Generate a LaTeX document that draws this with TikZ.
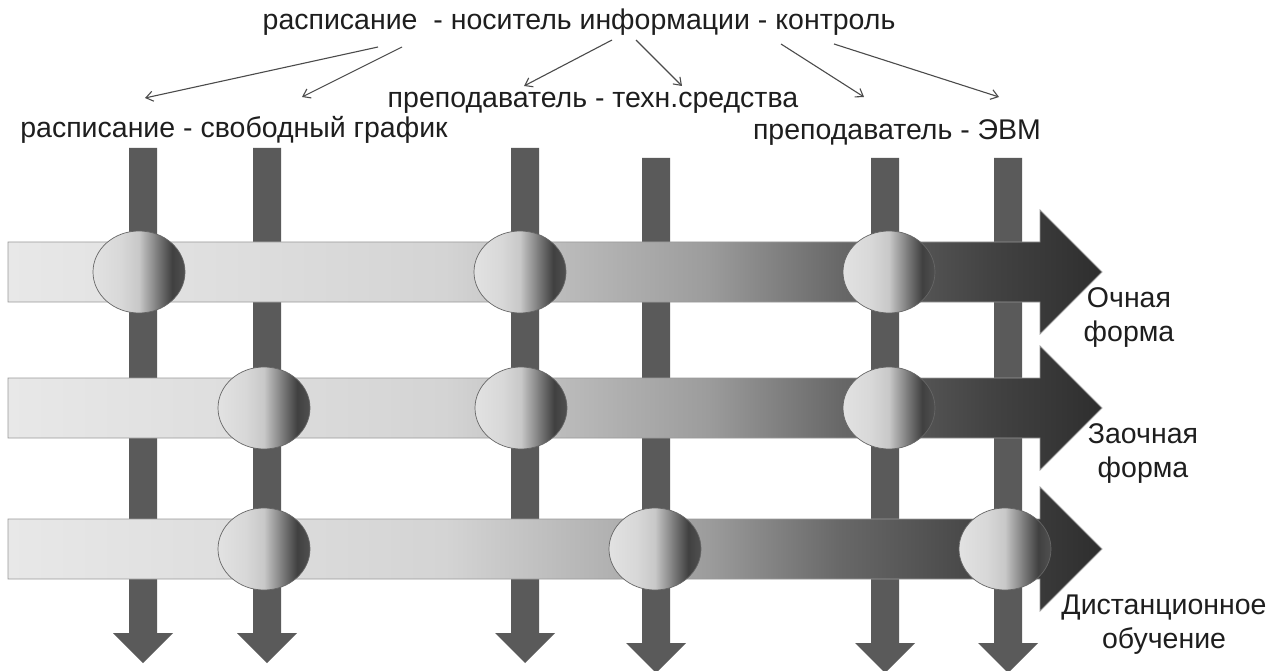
\documentclass[tikz,border=0pt]{standalone}
\usepackage{fontspec}
\setmainfont{Liberation Sans}
\usetikzlibrary{arrows.meta}
\definecolor{b1}{HTML}{E8E8E8}
\definecolor{b2}{HTML}{D4D4D4}
\definecolor{b3}{HTML}{9C9C9C}
\definecolor{b4}{HTML}{686868}
\definecolor{b5}{HTML}{424242}
\definecolor{b6}{HTML}{2E2E2E}
\definecolor{c1}{HTML}{E2E2E2}
\definecolor{c2}{HTML}{D8D8D8}
\definecolor{c3}{HTML}{C8C8C8}
\definecolor{c4}{HTML}{B0B0B0}
\definecolor{c5}{HTML}{404040}
\definecolor{c6}{HTML}{505050}
\definecolor{barcol}{HTML}{5A5A5A}
\definecolor{txt}{HTML}{1E1E1E}
\pgfdeclarehorizontalshading{bandshade}{100bp}{color(0bp)=(b1); color(25bp)=(b1); color(45bp)=(b2); color(57bp)=(b3); color(63bp)=(b4); color(70bp)=(b5); color(75bp)=(b6); color(100bp)=(b6)}
\pgfdeclarehorizontalshading{ballshade}{100bp}{color(0bp)=(c1); color(25bp)=(c1); color(40bp)=(c2); color(50bp)=(c3); color(53bp)=(c4); color(68bp)=(c5); color(75bp)=(c6); color(100bp)=(c6)}
\begin{document}
\begin{tikzpicture}[x=1pt,y=-1pt,
  lbl/.style={font=\fontsize{28.5}{34}\selectfont, text=txt, inner sep=0pt},
  ptr/.style={draw=txt!80, line width=1.1pt, -{Straight Barb[length=7pt,width=10pt]}},
  vbar/.style={fill=barcol},
  band/.style={shading=bandshade, draw=gray!80, line width=0.8pt},
  ball/.style={shading=ballshade, draw=black!60, line width=0.7pt}]
\useasboundingbox (0,0) rectangle (1280,671);
% vertical arrows
\foreach \x/\t/\b in {143/148/633, 267/148/633, 525/148/633, 656/158/643, 885/158/643, 1008/158/643}
  \fill[vbar] ({\x-14},\t) -- ({\x+14},\t) -- ({\x+14},\b) -- ({\x+30},\b)
     -- (\x,{\b+30}) -- ({\x-30},\b) -- ({\x-14},\b) -- cycle;
% horizontal arrows
\foreach \y in {272,408,549}
  \shade[band] (8,{\y-30}) -- (1040,{\y-30}) -- (1040,{\y-62}) -- (1102,\y)
     -- (1040,{\y+62}) -- (1040,{\y+30}) -- (8,{\y+30}) -- cycle;
% balls
\foreach \x/\y in {139/272, 520/272, 889/272, 264/408, 521/408, 889/408, 264/549, 655/549, 1005/549}
  \shade[ball] (\x,\y) ellipse [x radius=46pt, y radius=41pt];
% texts
\node[lbl] (title) at (579,22) {расписание \ - носитель информации - контроль};
\node[lbl] (tech) at (593,103) {преподаватель - техн.средства};
\node[lbl] (free) at (234,130) {расписание - свободный график};
\node[lbl] (evm) at (897,133) {преподаватель - ЭВМ};
\node[lbl, align=center] (och) at (1129,318) {Очная\\форма};
\node[lbl, align=center] (zao) at (1143,454) {Заочная\\форма};
\node[lbl, align=center] (dist) at (1164,625) {Дистанционное\\обучение};
% pointers
\coordinate (s1) at (378,47); \coordinate (e1) at (145,98);
\coordinate (s2) at (402,47); \coordinate (e2) at (302,97);
\coordinate (s3) at (612,40); \coordinate (e3) at (524,86);
\coordinate (s4) at (636,40); \coordinate (e4) at (682,86);
\coordinate (s5) at (781,44); \coordinate (e5) at (864,97);
\coordinate (s6) at (834,44); \coordinate (e6) at (999,97);
\foreach \i in {1,...,6} \draw[ptr] (s\i) -- (e\i);
\end{tikzpicture}
\end{document}
